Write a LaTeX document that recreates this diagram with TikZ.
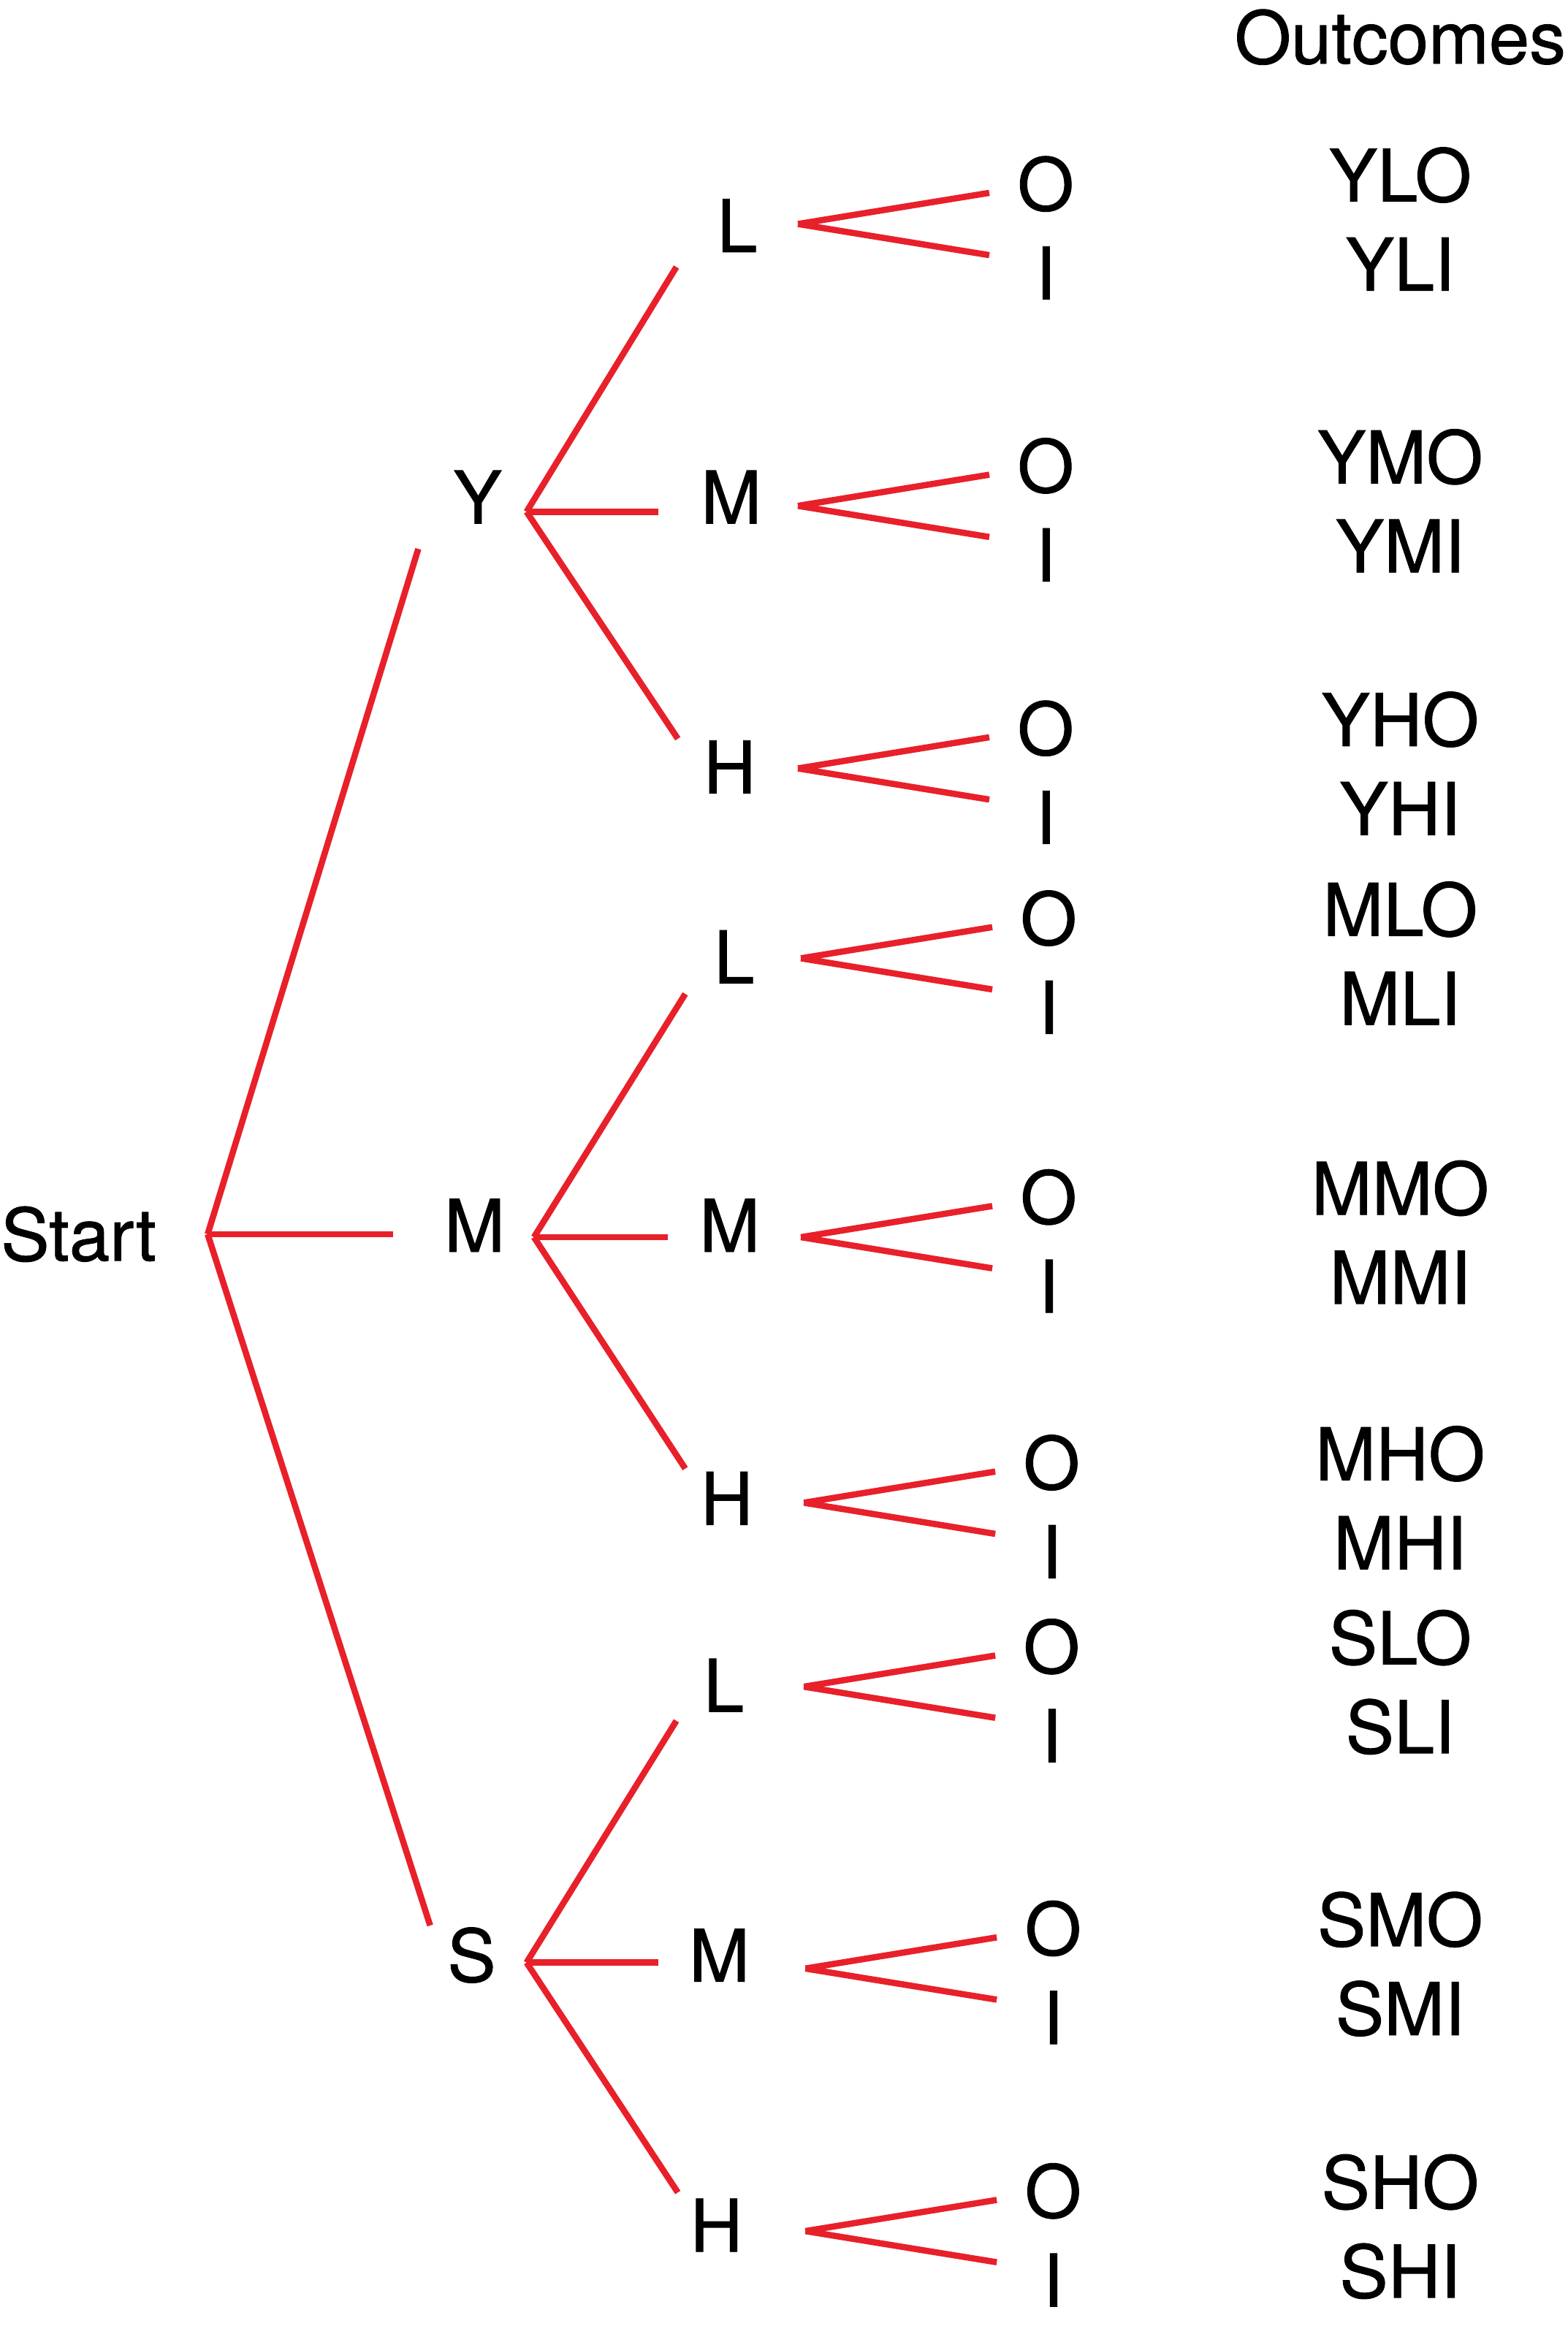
\documentclass[tikz,border=0pt]{standalone}
\usepackage{fontspec}
\setmainfont{TeX Gyre Heros}
\usetikzlibrary{positioning,calc}
\definecolor{Branch}{HTML}{E8202A}

\begin{document}
\begin{tikzpicture}[x=0.5pt,y=-0.5pt,
    lbl/.style={inner sep=0pt,font=\fontsize{24.5}{29}\selectfont\addfontfeature{FakeBold=0.9}},
    br/.style={draw=Branch,line width=2.1pt}]
  \useasboundingbox (0,0) rectangle (1057,1568);
  \node[lbl] (start) at (53,832) {Start};
  \node[lbl] (outc) at (944,25) {Outcomes};
  \coordinate (root) at (140,832);
  % first choice
  \foreach \p/\lx/\ly/\ex/\ey/\bx/\by in {Y/322/335/282/370/355/345, M/320/826/265/832/360/834, S/318/1318/290/1298/355/1323} {
    \node[lbl] (\p) at (\lx,\ly) {\p};
    \coordinate (\p e) at (\ex,\ey);
    \coordinate (\p b) at (\bx,\by);
    \draw[br] (root) -- (\p e);
  }
  % second choice, then O / I
  \foreach \p/\q/\lx/\ly/\ex/\ey/\fx/\fy in {
      Y/L/497/152/456/180/538/151, Y/M/493/335/444/345/538/341, Y/H/492/517/457/498/538/518,
      M/L/495/645/462/670/540/646, M/M/492/826/450/834/540/834, M/H/490/1010/462/990/542/1013,
      S/L/488/1136/456/1160/542/1137, S/M/485/1318/444/1323/543/1327, S/H/483/1500/457/1478/543/1504} {
    \node[lbl] (\p\q) at (\lx,\ly) {\q};
    \coordinate (\p\q e) at (\ex,\ey);
    \coordinate (\p\q f) at (\fx,\fy);
    \coordinate (\p\q t) at ($(\p\q f)+(129,-21)$);
    \coordinate (\p\q u) at ($(\p\q f)+(129,21)$);
    \node[lbl] (\p\q O) at ($(\p\q f)+(167,-27)$) {O};
    \node[lbl] (\p\q I) at ($(\p\q f)+(167,33)$) {I};
    \node[lbl] (out\p\q O) at (944,\fy-33) {\p\q O};
    \node[lbl] (out\p\q I) at (944,\fy+27) {\p\q I};
    \draw[br] (\p b) -- (\p\q e);
    \draw[br] (\p\q f) -- (\p\q t) (\p\q f) -- (\p\q u);
  }
\end{tikzpicture}
\end{document}
